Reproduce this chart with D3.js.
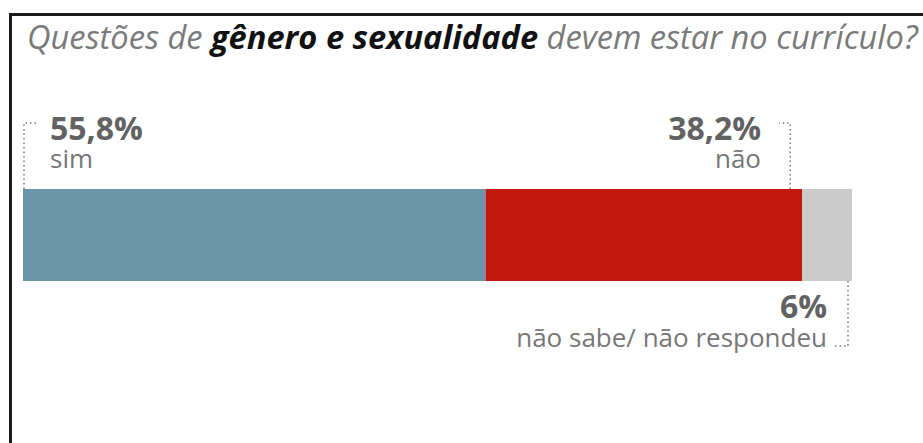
<!DOCTYPE html>
<html>
<head>
<meta charset="utf-8">
<script src="https://cdn.jsdelivr.net/npm/d3@7"></script>
<style>
  body { margin: 0; background: #fff; }
  svg { display: block; font-family: "Open Sans", sans-serif; }
</style>
</head>
<body>
<script>
const categories = ["sim", "não", "não sabe/ não respondeu"]
const values = [55.8, 38.2, 6]
const valueLabels = ["55,8%", "38,2%", "6%"]
const colors = ["#6d95aa", "#c2170e", "#cbcbcb"]

const w = 923
const h = 443

const svg = d3.select("body")
              .append("svg")
              .attr("width", w)
              .attr("height", h)

// frame
svg.append("path")
   .attr("d", "M10.5," + h + " V14.5 H" + w)
   .attr("fill", "none")
   .attr("stroke", "#1a1a1a")
   .attr("stroke-width", 3)

// title, condensed to the reference width
const titleG = svg.append("g")
const title = titleG.append("text")
                    .attr("x", 0)
                    .attr("y", 0)
                    .attr("font-size", 33)
                    .attr("font-style", "italic")
                    .attr("fill", "#7a7a7a")
title.append("tspan").text("Questões de ")
title.append("tspan").attr("font-weight", "bold").attr("fill", "#111").text("gênero e sexualidade")
title.append("tspan").text(" devem estar no currículo?")
const tw = title.node().getComputedTextLength()
titleG.attr("transform", "translate(27,49) scale(" + (891 / tw) + ",1)")

const xScale = d3.scaleLinear()
                 .domain([0, d3.sum(values)])
                 .range([23, 852])
const barTop = 189
const barBottom = 281

let acc = 0
const segs = values.map((v, i) => {
    const s = { start: acc, end: acc + v, i: i }
    acc += v
    return s
})

svg.selectAll("rect.seg")
   .data(segs)
   .enter()
   .append("rect")
   .attr("class", "seg")
   .attr("x", (d) => xScale(d.start))
   .attr("y", barTop)
   .attr("width", (d) => xScale(d.end) - xScale(d.start))
   .attr("height", barBottom - barTop)
   .attr("fill", (d) => colors[d.i])

const dots = (d) => svg.append("path")
                       .attr("d", d)
                       .attr("fill", "none")
                       .attr("stroke", "#777")
                       .attr("stroke-width", 1.5)
                       .attr("stroke-dasharray", "1.5,3")

const label = (x, anchor, yv, yc, i) => {
    svg.append("text").attr("x", x).attr("y", yv).attr("text-anchor", anchor)
       .attr("font-size", 32).attr("font-weight", "bold").attr("fill", "#626262")
       .text(valueLabels[i])
    svg.append("text").attr("x", x).attr("y", yc).attr("text-anchor", anchor)
       .attr("font-size", 26).attr("fill", "#777")
       .text(categories[i])
}

// sim
const x0 = xScale(segs[0].start)
dots("M" + (x0 + 1) + "," + barTop + " V123 H37")
label(50, "start", 140, 168, 0)

// não
const x1 = xScale(segs[1].end) - 12
dots("M" + x1 + "," + barTop + " V123 H779")
label(761, "end", 140, 168, 1)

// não sabe
const x2 = xScale(segs[2].end) - 4
dots("M" + x2 + "," + barBottom + " V346 H835")
label(827, "end", 318, 347, 2)
</script>
</body>
</html>
